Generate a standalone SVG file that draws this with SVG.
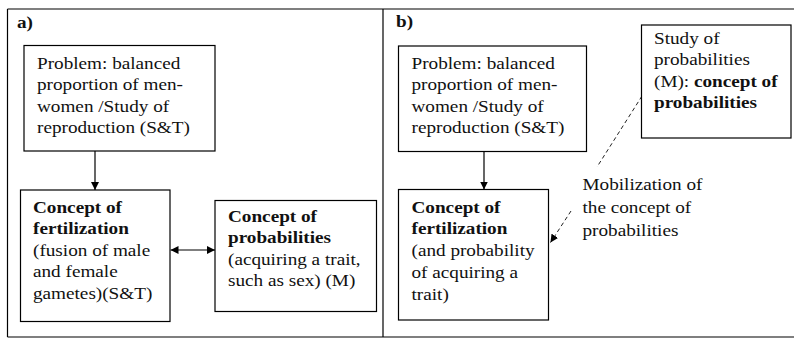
<svg xmlns="http://www.w3.org/2000/svg" width="794" height="338" viewBox="0 0 794 338">
<style>
  .frame { stroke: #000; stroke-width: 1.2; fill: none; }
  .box { fill: #fff; stroke: #000; stroke-width: 1.2; }
  .t { font-size: 16px; fill: #111; }
  .b { font-weight: bold; }
  .conn { stroke: #000; stroke-width: 1.2; fill: none; }
  .dash { stroke: #222; stroke-width: 1; fill: none; stroke-dasharray: 4 3; }
</style>
<defs>
  <marker id="ah" viewBox="0 0 10 10" refX="10" refY="5" markerWidth="8" markerHeight="8" markerUnits="userSpaceOnUse" orient="auto-start-reverse">
    <path d="M0,0 L10,5 L0,10 Z" fill="#000"/>
  </marker>
</defs>
<rect x="0" y="0" width="794" height="338" fill="#fff"/>
<g font-family="'Liberation Serif', 'Times New Roman', Tinos, 'DejaVu Serif', serif">
<g id="frame">
  <line class="frame" x1="7.5" y1="9" x2="794" y2="9"/>
  <line class="frame" x1="7.5" y1="9" x2="7.5" y2="337"/>
  <line class="frame" x1="7.5" y1="337" x2="794" y2="337"/>
  <line class="frame" x1="383" y1="9" x2="383" y2="337"/>
  <text class="t b" transform="translate(17 28) scale(1.2 1)">a)</text>
  <text class="t b" transform="translate(396 27) scale(1.2 1)">b)</text>
</g>
<g id="connectors">
  <line class="conn" x1="95" y1="151" x2="95" y2="190" marker-end="url(#ah)"/>
  <line class="conn" x1="170.5" y1="250" x2="215" y2="250" marker-start="url(#ah)" marker-end="url(#ah)"/>
  <line class="conn" x1="484" y1="151.5" x2="484" y2="189.5" marker-end="url(#ah)"/>
  <path class="dash" d="M642,96 L597,167 M571,211 L550.5,242.5" marker-end="url(#ah)"/>
</g>
<g id="a-problem">
  <rect class="box" x="24" y="45.5" width="191" height="105.5"/>
  <text class="t" transform="translate(37 69) scale(1.2 1)">
    <tspan x="0" y="0">Problem: balanced</tspan>
    <tspan x="0" y="21.3">proportion of men-</tspan>
    <tspan x="0" y="42.6">women /Study of</tspan>
    <tspan x="0" y="63.9">reproduction (S&amp;T)</tspan>
  </text>
</g>
<g id="a-fertilization">
  <rect class="box" x="20.5" y="190" width="149.5" height="131.5"/>
  <text class="t" transform="translate(33 213) scale(1.2 1)">
    <tspan x="0" y="0" class="b">Concept of</tspan>
    <tspan x="0" y="21.5" class="b">fertilization</tspan>
    <tspan x="0" y="43">(fusion of male</tspan>
    <tspan x="0" y="64.5">and female</tspan>
    <tspan x="0" y="86">gametes)(S&amp;T)</tspan>
  </text>
</g>
<g id="a-probabilities">
  <rect class="box" x="215" y="200.5" width="161.5" height="111"/>
  <text class="t" transform="translate(228 222) scale(1.2 1)">
    <tspan x="0" y="0" class="b">Concept of</tspan>
    <tspan x="0" y="21.5" class="b">probabilities</tspan>
    <tspan x="0" y="43">(acquiring a trait,</tspan>
    <tspan x="0" y="64.5">such as sex) (M)</tspan>
  </text>
</g>
<g id="b-problem">
  <rect class="box" x="398.5" y="46" width="188" height="105.5"/>
  <text class="t" transform="translate(411.5 69) scale(1.2 1)">
    <tspan x="0" y="0">Problem: balanced</tspan>
    <tspan x="0" y="21.3">proportion of men-</tspan>
    <tspan x="0" y="42.6">women /Study of</tspan>
    <tspan x="0" y="63.9">reproduction (S&amp;T)</tspan>
  </text>
</g>
<g id="b-study">
  <rect class="box" x="641.5" y="25" width="149.5" height="113"/>
  <text class="t" transform="translate(654 44) scale(1.2 1)">
    <tspan x="0" y="0">Study of</tspan>
    <tspan x="0" y="21.5">probabilities</tspan>
    <tspan x="0" y="43">(M): <tspan class="b">concept of</tspan></tspan>
    <tspan x="0" y="64.5" class="b">probabilities</tspan>
  </text>
</g>
<g id="b-fertilization">
  <rect class="box" x="398.5" y="189.5" width="150" height="130.5"/>
  <text class="t" transform="translate(411.5 212.5) scale(1.2 1)">
    <tspan x="0" y="0" class="b">Concept of</tspan>
    <tspan x="0" y="22" class="b">fertilization</tspan>
    <tspan x="0" y="44">(and probability</tspan>
    <tspan x="0" y="66">of acquiring a</tspan>
    <tspan x="0" y="88">trait)</tspan>
  </text>
</g>
<g id="b-label">
  <text class="t" transform="translate(582.5 190) scale(1.2 1)">
    <tspan x="0" y="0">Mobilization of</tspan>
    <tspan x="0" y="23">the concept of</tspan>
    <tspan x="0" y="46">probabilities</tspan>
  </text>
</g>
</g>
</svg>
